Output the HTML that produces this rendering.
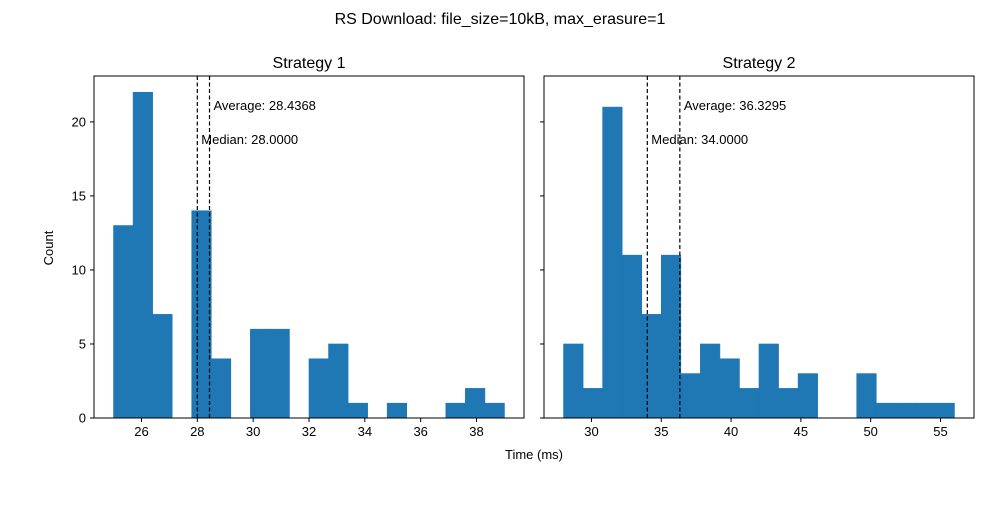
<!DOCTYPE html>
<html><head><meta charset="utf-8"><style>
body{margin:0;background:#fff;}
svg{font-family:"Liberation Sans","DejaVu Sans",sans-serif;}
</style></head><body>
<svg id="c" width="1000" height="500" viewBox="0 0 1000 500" xmlns="http://www.w3.org/2000/svg">
<text x="500" y="24" font-size="16" text-anchor="middle">RS Download: file_size=10kB, max_erasure=1</text>
<text x="534" y="459" font-size="13" text-anchor="middle">Time (ms)</text>
<text x="53" y="248" font-size="13" text-anchor="middle" transform="rotate(-90 53 248)">Count</text>
</svg>
<script>
const s1Start = 25, s1BinWidth = 0.7;
const s1Counts = [13,22,7,0,14,4,0,6,6,0,4,5,1,0,1,0,0,1,2,1];
const s1Median = 28.0, s1Average = 28.4368;
const s1XTicks = [26,28,30,32,34,36,38];
const s2Start = 28, s2BinWidth = 1.4;
const s2Counts = [5,2,21,11,7,11,3,5,4,2,5,2,3,0,0,3,1,1,1,1];
const s2Median = 34.0, s2Average = 36.3295;
const s2XTicks = [30,35,40,45,50,55];
const yTicks = [0,5,10,15,20];
const titles = ["Strategy 1","Strategy 2"];

const NS="http://www.w3.org/2000/svg";
const svg=document.getElementById('c');
function mk(tag,attrs,parent){const e=document.createElementNS(NS,tag);for(const k in attrs)e.setAttribute(k,attrs[k]);(parent||svg).appendChild(e);return e;}

const panels=[
 {L:94,R:524,start:s1Start,bw:s1BinWidth,counts:s1Counts,med:s1Median,avg:s1Average,ticks:s1XTicks,fmt:v=>v.toFixed(4),showY:true,name:'strategy-1'},
 {L:544,R:974,start:s2Start,bw:s2BinWidth,counts:s2Counts,med:s2Median,avg:s2Average,ticks:s2XTicks,fmt:v=>v.toFixed(4),showY:false,name:'strategy-2'}
];
const T=76,B=418;
const ymax=Math.max(...s1Counts,...s2Counts)*1.05;
const y=v=>B-(v/ymax)*(B-T);

panels.forEach((p,pi)=>{
 const n=p.counts.length, span=n*p.bw;
 const x0=p.start-0.05*span, x1=p.start+span+0.05*span;
 const x=v=>p.L+(v-x0)/(x1-x0)*(p.R-p.L);
 const g=mk('g',{});
 
 
 p.counts.forEach((c,i)=>{
  if(c<=0)return;
  const a=x(p.start+i*p.bw), b=x(p.start+(i+1)*p.bw);
  const r=mk('rect',{x:a,y:y(c),width:b-a,height:B-y(c),fill:'#1f77b4',stroke:'#1f77b4','stroke-width':0.6},g);
  
  
 });
 [[p.med,'Median: ',(T+139-76)],[p.avg,'Average: ',(T+105-76)]].forEach(([v,lab,ty],k)=>{
  const l=mk('line',{x1:x(v),x2:x(v),y1:T,y2:B,stroke:'#000','stroke-width':1.2,'stroke-dasharray':'4,2.5'},g);
  
  
  const t=mk('text',{x:x(v)+4,y:ty+5,'font-size':13},g);
  t.textContent=lab+p.fmt(v);
  
  
 });
 const fr=mk('rect',{x:p.L,y:T,width:p.R-p.L,height:B-T,fill:'none',stroke:'#000','stroke-width':1},g);
 
 
 p.ticks.forEach(v=>{
  mk('line',{x1:x(v),x2:x(v),y1:B,y2:B+4,stroke:'#000'},g);
  const t=mk('text',{x:x(v),y:B+18,'font-size':13,'text-anchor':'middle'},g);
  t.textContent=v;
  
  
 });
 yTicks.forEach(v=>{
  mk('line',{x1:p.L-4,x2:p.L,y1:y(v),y2:y(v),stroke:'#000'},g);
  if(p.showY){
   const t=mk('text',{x:p.L-8,y:y(v)+4.5,'font-size':13,'text-anchor':'end'},g);
   t.textContent=v;
   
   
  }
 });
 const tt=mk('text',{x:(p.L+p.R)/2,y:T-8,'font-size':16,'text-anchor':'middle'},g);
 tt.textContent=titles[pi];
 
 
});
</script>
</body></html>
